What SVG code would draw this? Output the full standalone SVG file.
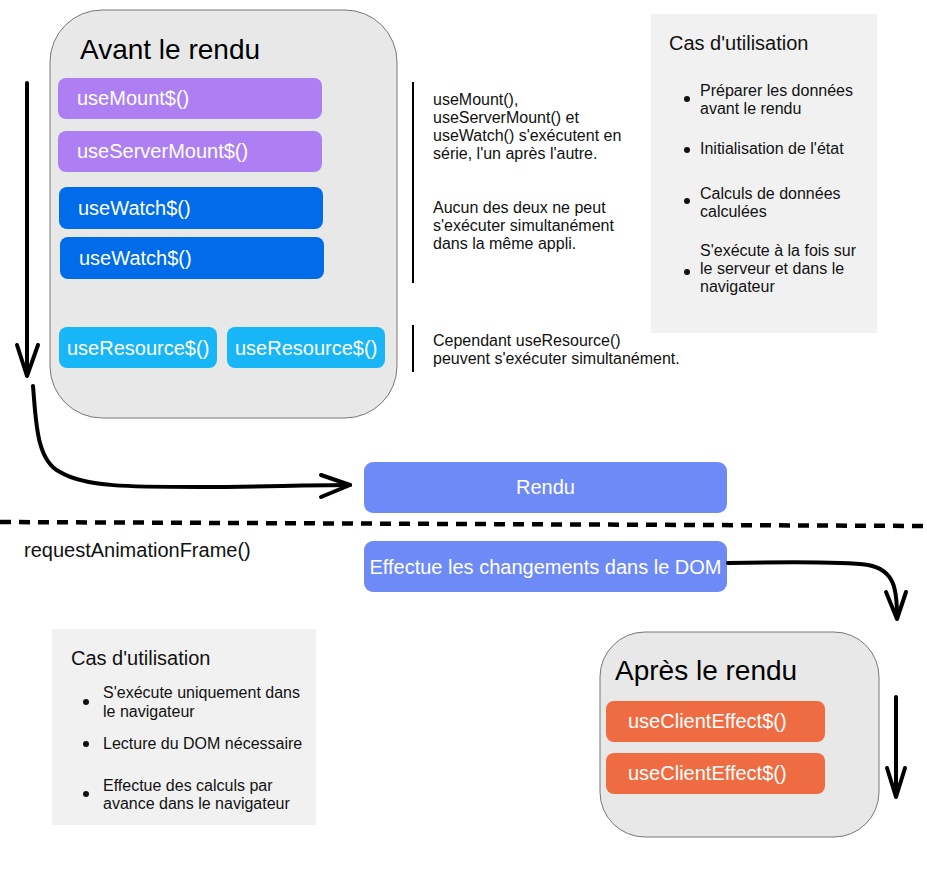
<svg xmlns="http://www.w3.org/2000/svg" width="927" height="873" viewBox="0 0 927 873">
<style>
text{font-family:"Liberation Sans",Arial,sans-serif}
.container{fill:#e8e8e8;stroke:#777;stroke-width:1}
.title{font-size:28px;fill:#000}
.pill{stroke:none}
.lbl{font-size:20px;fill:#fff}
.note{font-size:16px;fill:#111}
.panel{fill:#f1f1f1}
.ptitle{font-size:20px;fill:#111}
.bul{fill:#111}
.conn{fill:none;stroke:#000;stroke-width:4;stroke-linecap:round;stroke-linejoin:round}
.bar{stroke:#000;stroke-width:2}
</style>
<rect width="927" height="873" fill="#fff"/>

<g id="avant">
<rect class="container" x="50" y="10" width="347" height="408" rx="52"/>
<text class="title" x="80" y="59">Avant le rendu</text>
</g>
<g id="useMount">
<rect class="pill" x="58" y="78" width="264" height="41" rx="8" fill="#ad7ff3"/>
<text class="lbl" x="77" y="105">useMount$()</text>
</g>
<g id="useServerMount">
<rect class="pill" x="58" y="131" width="264" height="41" rx="8" fill="#ad7ff3"/>
<text class="lbl" x="77" y="158">useServerMount$()</text>
</g>
<g id="useWatch1">
<rect class="pill" x="59" y="187" width="264" height="42" rx="8" fill="#006ce9"/>
<text class="lbl" x="78" y="215">useWatch$()</text>
</g>
<g id="useWatch2">
<rect class="pill" x="60" y="237" width="264" height="42" rx="8" fill="#006ce9"/>
<text class="lbl" x="79" y="265">useWatch$()</text>
</g>
<g id="useResource1">
<rect class="pill" x="59" y="327" width="158" height="41" rx="8" fill="#18b6f6"/>
<text class="lbl" x="67" y="355">useResource$()</text>
</g>
<g id="useResource2">
<rect class="pill" x="227" y="327" width="158" height="41" rx="8" fill="#18b6f6"/>
<text class="lbl" x="235" y="355">useResource$()</text>
</g>

<g id="notes">
<line class="bar" x1="413" y1="82" x2="413" y2="283"/>
<line class="bar" x1="413" y1="325" x2="413" y2="372"/>
<text class="note" x="433" y="105">useMount(),</text>
<text class="note" x="433" y="123">useServerMount() et</text>
<text class="note" x="433" y="141">useWatch() s'exécutent en</text>
<text class="note" x="433" y="159">série, l'un après l'autre.</text>
<text class="note" x="433" y="213">Aucun des deux ne peut</text>
<text class="note" x="433" y="231">s'exécuter simultanément</text>
<text class="note" x="433" y="249">dans la même appli.</text>
<text class="note" x="433" y="346">Cependant useResource()</text>
<text class="note" x="433" y="364">peuvent s'exécuter simultanément.</text>
</g>

<g id="cas1">
<rect class="panel" x="651" y="14" width="226" height="319"/>
<text class="ptitle" x="669" y="50">Cas d'utilisation</text>
<circle class="bul" cx="687" cy="99" r="3"/>
<text class="note" x="700" y="96">Préparer les données</text>
<text class="note" x="700" y="114">avant le rendu</text>
<circle class="bul" cx="687" cy="150" r="3"/>
<text class="note" x="700" y="154">Initialisation de l'état</text>
<circle class="bul" cx="687" cy="201" r="3"/>
<text class="note" x="700" y="199">Calculs de données</text>
<text class="note" x="700" y="217">calculées</text>
<circle class="bul" cx="687" cy="272" r="3"/>
<text class="note" x="700" y="256">S'exécute à la fois sur</text>
<text class="note" x="700" y="274">le serveur et dans le</text>
<text class="note" x="700" y="292">navigateur</text>
</g>

<g id="rendu">
<rect class="pill" x="364" y="462" width="363" height="51" rx="9" fill="#6e8af7" stroke="#5a78e8" stroke-width="1"/>
<text class="lbl" x="545.5" y="494" text-anchor="middle">Rendu</text>
</g>
<g id="effectue">
<rect class="pill" x="364" y="541" width="363" height="51" rx="9" fill="#6e8af7" stroke="#5a78e8" stroke-width="1"/>
<text class="lbl" x="545.5" y="574" text-anchor="middle">Effectue les changements dans le DOM</text>
</g>

<text id="raf" x="24" y="557" font-size="20" fill="#111">requestAnimationFrame()</text>

<g id="cas2">
<rect class="panel" x="52" y="629" width="264" height="196"/>
<text class="ptitle" x="71" y="665">Cas d'utilisation</text>
<circle class="bul" cx="86" cy="702" r="3"/>
<text class="note" x="103" y="698">S'exécute uniquement dans</text>
<text class="note" x="103" y="717">le navigateur</text>
<circle class="bul" cx="86" cy="744" r="3"/>
<text class="note" x="103" y="749">Lecture du DOM nécessaire</text>
<circle class="bul" cx="86" cy="794" r="3"/>
<text class="note" x="103" y="791">Effectue des calculs par</text>
<text class="note" x="103" y="809">avance dans le navigateur</text>
</g>

<g id="apres">
<rect class="container" x="600" y="632" width="279" height="205" rx="45"/>
<text class="title" x="615" y="680">Après le rendu</text>
</g>
<g id="useClientEffect1">
<rect class="pill" x="606" y="701" width="219" height="41" rx="8" fill="#ef6c42"/>
<text class="lbl" x="628" y="728">useClientEffect$()</text>
</g>
<g id="useClientEffect2">
<rect class="pill" x="606" y="753" width="219" height="41" rx="8" fill="#ef6c42"/>
<text class="lbl" x="628" y="780">useClientEffect$()</text>
</g>

<g id="connectors">
<path class="conn" d="M27,83 L27,375"/>
<path class="conn" d="M17,345 L27,376 L38,345"/>
<path class="conn" d="M33,386 C36,420 36,460 60,472 C85,487 130,487 200,487 C260,487 300,485 350,485"/>
<path class="conn" d="M321,475 L350,485 L321,497"/>
<line x1="0" y1="522" x2="927" y2="526" stroke="#000" stroke-width="4.5" stroke-dasharray="11,8"/>
<path class="conn" d="M728,563 C780,562 840,561 868,565 C895,570 897,590 897,617"/>
<path class="conn" d="M886,592 L897,619 L906,592"/>
<path class="conn" d="M896,697 L896,796"/>
<path class="conn" d="M887,768 L896,797 L905,768"/>
</g>
</svg>
